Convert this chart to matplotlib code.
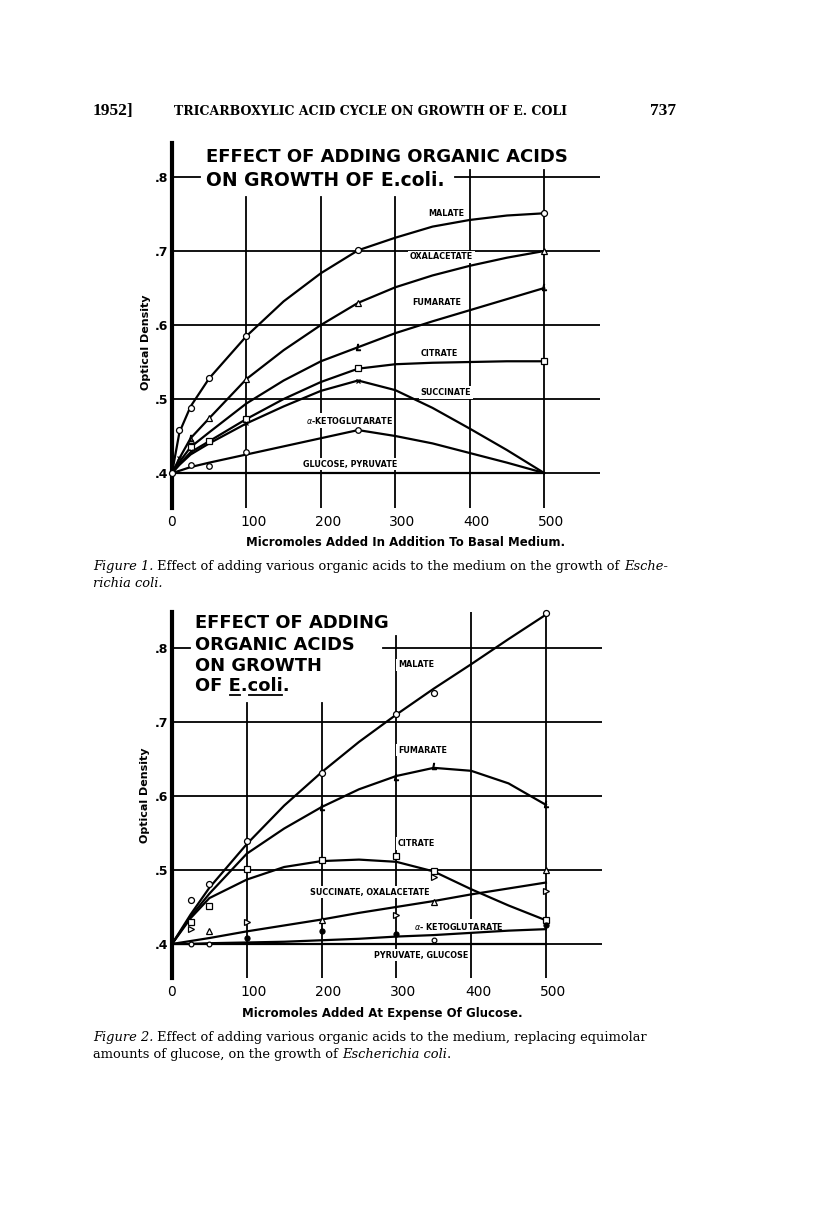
import matplotlib.pyplot as plt
import matplotlib.transforms as mtransforms
from matplotlib.lines import Line2D

# page size in pixels (dpi 100)
W, H = 816, 1213
SANS = 'DejaVu Sans'
SERIF = 'DejaVu Serif'

# ---------------- Figure 1 : acids added to basal medium ----------------
f1_x = [0, 10, 25, 50, 100, 150, 200, 250, 300, 350, 400, 450, 500]
f1_malate = [0.400, 0.455, 0.490, 0.528, 0.585, 0.632, 0.670, 0.701, 0.718, 0.733, 0.742, 0.748, 0.751]
f1_oxal = [0.400, 0.420, 0.447, 0.474, 0.527, 0.566, 0.600, 0.630, 0.651, 0.667, 0.680, 0.691, 0.700]
f1_fum = [0.400, 0.415, 0.435, 0.455, 0.494, 0.525, 0.551, 0.570, 0.589, 0.605, 0.620, 0.635, 0.650]
f1_cit = [0.400, 0.412, 0.428, 0.443, 0.473, 0.500, 0.523, 0.541, 0.547, 0.549, 0.550, 0.551, 0.551]
f1_succ = [0.400, 0.411, 0.425, 0.440, 0.467, 0.490, 0.511, 0.525, 0.512, 0.488, 0.460, 0.431, 0.400]
f1_akg = [0.400, 0.403, 0.408, 0.414, 0.425, 0.436, 0.447, 0.458, 0.450, 0.440, 0.427, 0.414, 0.400]
f1_gluc = [0.400] * 13

# measured points
f1_malate_px = [0, 10, 25, 50, 100, 250, 500]
f1_malate_py = [0.400, 0.458, 0.488, 0.528, 0.585, 0.701, 0.751]
f1_oxal_px = [25, 50, 100, 250, 500]
f1_oxal_py = [0.445, 0.474, 0.527, 0.630, 0.700]
f1_fum_px = [25, 250, 500]
f1_fum_py = [0.447, 0.570, 0.651]
f1_cit_px = [25, 50, 100, 250, 500]
f1_cit_py = [0.435, 0.443, 0.473, 0.542, 0.551]
f1_succ_px = [10, 25, 100, 250]
f1_succ_py = [0.420, 0.430, 0.467, 0.525]
f1_akg_px = [25, 50, 100, 250]
f1_akg_py = [0.411, 0.410, 0.429, 0.458]

f1_labels = ['MALATE', 'OXALACETATE', 'FUMARATE', 'CITRATE', 'SUCCINATE',
             r'$\alpha$-KETOGLUTARATE', 'GLUCOSE, PYRUVATE']
f1_label_x = [369, 362, 356, 359, 368, 238, 239]
f1_label_y = [0.751, 0.692, 0.630, 0.561, 0.509, 0.471, 0.412]

# ---------------- Figure 2 : acids replacing glucose ----------------
f2_x = [0, 25, 50, 100, 150, 200, 250, 300, 350, 400, 450, 500]
f2_malate = [0.400, 0.440, 0.476, 0.535, 0.587, 0.632, 0.673, 0.710, 0.745, 0.778, 0.812, 0.845]
f2_fum = [0.400, 0.437, 0.468, 0.522, 0.556, 0.585, 0.609, 0.627, 0.638, 0.634, 0.617, 0.588]
f2_cit = [0.400, 0.435, 0.462, 0.487, 0.504, 0.512, 0.514, 0.511, 0.498, 0.474, 0.452, 0.432]
f2_succ = [0.400, 0.404, 0.408, 0.417, 0.425, 0.433, 0.442, 0.450, 0.458, 0.467, 0.475, 0.483]
f2_akg = [0.400, 0.400, 0.401, 0.402, 0.403, 0.405, 0.407, 0.410, 0.412, 0.415, 0.418, 0.420]
f2_pyr = [0.400] * 12

f2_malate_px = [25, 50, 100, 200, 300, 350, 500]
f2_malate_py = [0.460, 0.481, 0.539, 0.631, 0.711, 0.739, 0.847]
f2_fum_px = [200, 300, 350, 500]
f2_fum_py = [0.585, 0.625, 0.640, 0.589]
f2_cit_px = [25, 50, 100, 200, 300, 350, 500]
f2_cit_py = [0.430, 0.451, 0.501, 0.513, 0.519, 0.499, 0.433]
f2_succ_px = [50, 200, 350, 500]
f2_succ_py = [0.417, 0.432, 0.457, 0.500]
f2_oxal_px = [25, 100, 300, 350, 500]
f2_oxal_py = [0.420, 0.430, 0.439, 0.491, 0.471]
f2_akg_px = [100, 200, 300, 500]
f2_akg_py = [0.408, 0.418, 0.414, 0.425]
f2_pyr_px = [25, 50, 350]
f2_pyr_py = [0.400, 0.400, 0.406]

f2_labels = ['MALATE', 'FUMARATE', 'CITRATE', 'SUCCINATE, OXALACETATE',
             r'$\alpha$- KETOGLUTARATE', 'PYRUVATE, GLUCOSE']
f2_label_x = [302, 302, 302, 265, 383, 333]
f2_label_y = [0.777, 0.662, 0.536, 0.470, 0.424, 0.385]
f2_label_ha = ['left', 'left', 'left', 'center', 'center', 'center']

xticks = [0, 100, 200, 300, 400, 500]
xtick_labels = ['0', '100', '200', '300', '400', '500']
yticks = [0.4, 0.5, 0.6, 0.7, 0.8]
ytick_labels = ['.4', '.5', '.6', '.7', '.8']


def px_axes(fig, left, top, right, bottom):
    return fig.add_axes([left / W, 1 - bottom / H, (right - left) / W, (bottom - top) / H])


def fig_text(fig, x, y, s, **kw):
    return fig.text(x / W, 1 - y / H, s, **kw)


def setup_axes(ax, ylim, vtops, eight_segments):
    ax.set_xlim(0, 575)
    ax.set_ylim(*ylim)
    for side in ['top', 'right', 'bottom']:
        ax.spines[side].set_visible(False)
    ax.spines['left'].set_linewidth(3)
    ax.set_xticks(xticks, xtick_labels)
    ax.set_yticks(yticks, ytick_labels)
    ax.tick_params(length=0)
    ax.tick_params(axis='x', pad=5, labelsize=10)
    ax.tick_params(axis='y', pad=3, labelsize=9)
    for lab in ax.get_yticklabels():
        lab.set_fontweight('bold')
    # three-digit labels sit a little right of their grid line
    off = mtransforms.ScaledTranslation(0.07, 0, ax.figure.dpi_scale_trans)
    for lab in ax.get_xticklabels()[1:]:
        lab.set_transform(lab.get_transform() + off)
    # grid
    for x, top in zip(xticks[1:], vtops):
        ax.plot([x, x], [ylim[0], top], color='black', lw=1.3, zorder=1)
    for y in yticks[:-1]:
        ax.plot([0, 575], [y, y], color='black', lw=1.3, zorder=1)
    for a, b in eight_segments:
        ax.plot([a, b], [0.8, 0.8], color='black', lw=1.3, zorder=1)


def curve(ax, x, y):
    ax.plot(x, y, color='black', lw=1.6, zorder=3, clip_on=False,
            solid_joinstyle='round')


def pts(ax, x, y, marker, size=4.3, face='white'):
    ax.plot(x, y, ls='none', marker=marker, ms=size, mfc=face, mec='black',
            mew=0.9, zorder=4, clip_on=False)


def label(ax, x, y, s, ha='center'):
    ax.text(x, y, s, fontsize=5.8, fontweight='bold', family=SANS, ha=ha,
            va='center', zorder=2,
            bbox=dict(facecolor='white', edgecolor='none', pad=1.2))


def text_runs(fig, x0, y, runs, size):
    r = fig.canvas.get_renderer()
    x = x0
    for s, style in runs:
        t = fig_text(fig, x, y, s, fontsize=size, family=SERIF, style=style,
                     va='baseline')
        x += t.get_window_extent(r).width


def underlined_title(fig, x0, y, s, parts, size):
    # parts: (start, end) character ranges to underline
    r = fig.canvas.get_renderer()
    fig_text(fig, x0, y, s, fontsize=size, fontweight='bold', family=SANS, va='baseline')

    def width(sub):
        if not sub:
            return 0
        t = fig_text(fig, x0, y, sub, fontsize=size, fontweight='bold', family=SANS)
        w = t.get_window_extent(r).width
        t.remove()
        return w

    for a, b in parts:
        xa = x0 + width(s[:a])
        xb = x0 + width(s[:b])
        fig.add_artist(Line2D([(xa + 1) / W, (xb - 1) / W],
                              [1 - (y + 4) / H, 1 - (y + 4) / H],
                              color='black', lw=1.3))


fig = plt.figure(figsize=(W / 100, H / 100), dpi=100)
fig.patch.set_facecolor('white')

# running head
fig_text(fig, 93, 115, '1952]', fontsize=12.5, family='Liberation Serif', fontweight='bold',
         va='baseline')
fig_text(fig, 371, 115, 'TRICARBOXYLIC ACID CYCLE ON GROWTH OF E. COLI', fontsize=9.0,
         family=SERIF, fontweight='bold', ha='center', va='baseline')
fig_text(fig, 676, 115, '737', fontsize=12.5, family='Liberation Serif', fontweight='bold',
         ha='right', va='baseline')

# ---- panel 1 ----
ax1 = px_axes(fig, 172, 143, 600, 508)
setup_axes(ax1, (0.3527, 0.846), [0.773, 0.773, 0.773, 0.809, 0.809],
           [(0, 38), (380, 575)])
for ys in [f1_malate, f1_oxal, f1_fum, f1_cit, f1_succ, f1_akg, f1_gluc]:
    curve(ax1, f1_x, ys)
pts(ax1, f1_malate_px, f1_malate_py, 'o')
pts(ax1, f1_oxal_px, f1_oxal_py, '^')
pts(ax1, f1_fum_px, f1_fum_py, '$L$', size=4.5, face='black')
pts(ax1, f1_cit_px, f1_cit_py, 's', size=4)
pts(ax1, f1_succ_px, f1_succ_py, 'x', size=3.5)
pts(ax1, f1_akg_px, f1_akg_py, 'o', size=4)
for s, x, y in zip(f1_labels, f1_label_x, f1_label_y):
    label(ax1, x, y, s)
ax1.set_ylabel('Optical Density', fontsize=8, fontweight='bold', family=SANS)
ax1.yaxis.set_label_coords(-0.05, 0.455)
fig_text(fig, 406, 543, 'Micromoles Added In Addition To Basal Medium.', fontsize=8.5,
         fontweight='bold', family=SANS, ha='center', va='center')
fig_text(fig, 206, 157, 'EFFECT OF ADDING ORGANIC ACIDS', fontsize=13,
         fontweight='bold', family=SANS, va='center')
fig_text(fig, 206, 180, 'ON GROWTH OF E.coli.', fontsize=13.5,
         fontweight='bold', family=SANS, va='center')

text_runs(fig, 93, 570, [('Figure 1.', 'italic'),
                         (' Effect of adding various organic acids to the medium on the growth of ', 'normal'),
                         ('Esche-', 'italic')], 9.4)
text_runs(fig, 93, 587, [('richia coli.', 'italic')], 9.4)

# ---- panel 2 ----
ax2 = px_axes(fig, 172, 612, 602, 978)
setup_axes(ax2, (0.354, 0.8486), [0.726, 0.726, 0.816, 0.8486, 0.8486],
           [(0, 24), (282, 575)])
for ys in [f2_malate, f2_fum, f2_cit, f2_succ, f2_akg, f2_pyr]:
    curve(ax2, f2_x, ys)
pts(ax2, f2_malate_px, f2_malate_py, 'o')
pts(ax2, f2_fum_px, f2_fum_py, '$L$', size=4.5, face='black')
pts(ax2, f2_cit_px, f2_cit_py, 's', size=4)
pts(ax2, f2_succ_px, f2_succ_py, '^', size=4.3)
pts(ax2, f2_oxal_px, f2_oxal_py, '>', size=4.3)
pts(ax2, f2_akg_px, f2_akg_py, 'o', size=3.6, face='black')
pts(ax2, f2_pyr_px, f2_pyr_py, 'o', size=3.4)
for s, x, y, ha in zip(f2_labels, f2_label_x, f2_label_y, f2_label_ha):
    label(ax2, x, y, s, ha=ha)
ax2.set_ylabel('Optical Density', fontsize=8, fontweight='bold', family=SANS)
ax2.yaxis.set_label_coords(-0.05, 0.5)
fig_text(fig, 382, 1013, 'Micromoles Added At Expense Of Glucose.', fontsize=8.5,
         fontweight='bold', family=SANS, ha='center', va='center')
for i, s in enumerate(['EFFECT OF ADDING', 'ORGANIC ACIDS', 'ON GROWTH']):
    fig_text(fig, 195, 623 + 21.5 * i, s, fontsize=12.9, fontweight='bold',
             family=SANS, va='center')
underlined_title(fig, 195, 691, 'OF E.coli.', [(3, 4), (5, 9)], 12.9)

text_runs(fig, 93, 1041, [('Figure 2.', 'italic'),
                          (' Effect of adding various organic acids to the medium, replacing equimolar', 'normal')], 9.4)
text_runs(fig, 93, 1058, [('amounts of glucose, on the growth of ', 'normal'),
                          ('Escherichia coli', 'italic'), ('.', 'normal')], 9.4)

fig.savefig('out.png', dpi=100, facecolor='white')
